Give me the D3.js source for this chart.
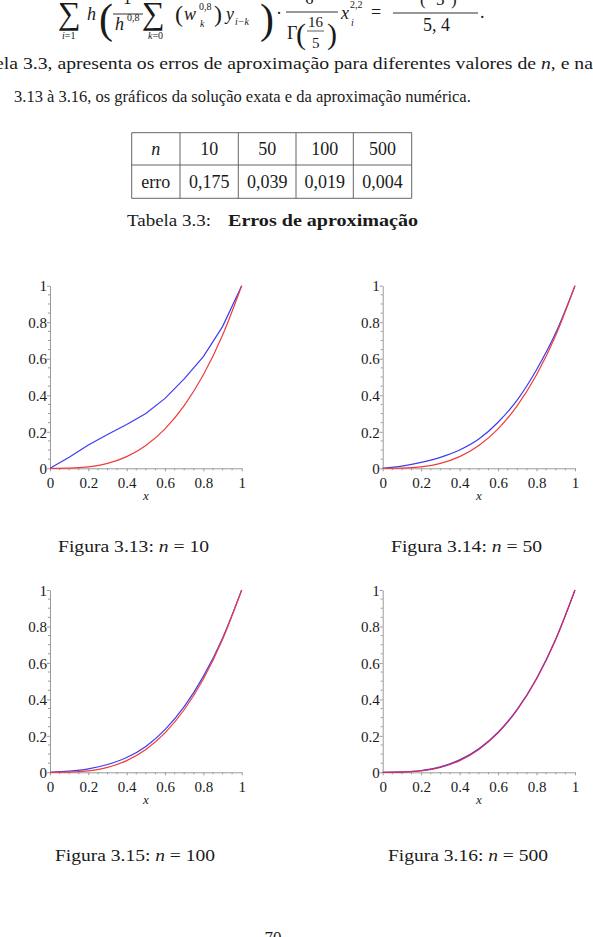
<!DOCTYPE html>
<html>
<head>
<meta charset="utf-8">
<script src="https://cdn.jsdelivr.net/npm/d3@7/dist/d3.min.js"></script>
<style>
  html, body { margin: 0; padding: 0; background: #fff; }
  svg { display: block; }
</style>
</head>
<body>
<svg id="page" width="593" height="937"></svg>
<script>
// ---------------- data ----------------
const xValues = [0, 0.1, 0.2, 0.3, 0.4, 0.5, 0.6, 0.7, 0.8, 0.9, 1];
const exactValues = [0, 0.001, 0.008, 0.027, 0.064, 0.125, 0.216, 0.343, 0.512, 0.729, 1];
const approxN10  = [0, 0.060, 0.128, 0.185, 0.240, 0.300, 0.383, 0.490, 0.612, 0.776, 1];
const approxN50  = [0, 0.012, 0.032, 0.060, 0.100, 0.160, 0.252, 0.375, 0.540, 0.742, 1];
const approxN100 = [0, 0.006, 0.019, 0.043, 0.081, 0.142, 0.234, 0.360, 0.526, 0.736, 1];
const approxN500 = [0, 0.002, 0.010, 0.030, 0.068, 0.129, 0.220, 0.347, 0.515, 0.731, 1];
const nValues = [10, 50, 100, 500];
const errorValues = ["0,175", "0,039", "0,019", "0,004"];
const tickValues = [0, 0.2, 0.4, 0.6, 0.8, 1];
const tickLabels = ["0", "0.2", "0.4", "0.6", "0.8", "1"];
const figureLabels = ["Figura 3.13:", "Figura 3.14:", "Figura 3.15:", "Figura 3.16:"];

const approxSeries = [approxN10, approxN50, approxN100, approxN500];

// ---------------- page ----------------
const svg = d3.select("#page");
svg.append("rect").attr("width", 593).attr("height", 937).attr("fill", "#fff");

const SERIF = "'Liberation Serif', 'DejaVu Serif', serif";
const txtColor = "#1a1a1a";

function t(str, x, y, size, opts = {}) {
  const el = svg.append("text")
    .attr("x", x).attr("y", y)
    .attr("font-family", SERIF)
    .attr("font-size", size)
    .attr("fill", txtColor)
    .attr("font-style", opts.italic ? "italic" : "normal")
    .attr("font-weight", opts.bold ? "bold" : "normal")
    .attr("text-anchor", opts.anchor || "start")
    .text(str);
  if (opts.len) el.attr("textLength", opts.len).attr("lengthAdjust", opts.adjust || "spacingAndGlyphs");
  return el;
}
function runs(parts, x, y, size, opts = {}) {
  const el = svg.append("text")
    .attr("x", x).attr("y", y)
    .attr("font-family", SERIF)
    .attr("font-size", size)
    .attr("fill", txtColor)
    .attr("text-anchor", opts.anchor || "start");
  parts.forEach(([s, it, bold]) => el.append("tspan")
    .attr("font-style", it ? "italic" : "normal")
    .attr("font-weight", bold ? "bold" : "normal")
    .text(s));
  if (opts.len) el.attr("textLength", opts.len).attr("lengthAdjust", opts.adjust || "spacingAndGlyphs");
  return el;
}
function hline(x1, x2, y, w = 0.9, col = txtColor) {
  svg.append("line").attr("x1", x1).attr("x2", x2).attr("y1", y).attr("y2", y)
    .attr("stroke", col).attr("stroke-width", w);
}

// ---------------- formula (top, cut off) ----------------
t("\u2211", 58, 24, 32);
runs([["i", true], ["=1", false]], 62, 39, 10);
t("h", 87, 20, 18, {italic: true});
t("(", 99, 33, 42);
t("1", 123, 4, 17);
hline(113, 143, 14);
t("h", 115, 30, 18, {italic: true});
t("0,8", 127, 21, 10);
t("\u2211", 142, 24, 32);
runs([["k", true], ["=0", false]], 148, 39, 10);
t("(", 175, 22, 24);
t("w", 184, 20, 18, {italic: true});
t("0,8", 199, 10, 10);
t("k", 200, 27, 10, {italic: true});
t(")", 214, 22, 24);
t("y", 226, 20, 18, {italic: true});
t("i\u2212k", 235, 25, 10, {italic: true});
t(")", 260, 33, 42);
t("\u00b7", 276, 19, 18);
hline(286, 338, 12);
t("6", 305, 4, 17);
t("\u0393", 287, 39, 18);
t("(", 296, 44, 30);
t("16", 308, 27, 15);
hline(307, 324, 31, 0.7);
t("5", 312, 48, 15);
t(")", 327, 44, 30);
t("x", 341, 19, 18, {italic: true});
t("2,2", 350, 8, 10);
t("i", 351, 26, 10, {italic: true});
t("=", 371, 18, 18);
hline(393, 478, 13);
t("(", 420, 5, 17);
t("5", 436, 5, 17);
t(")", 451, 5, 17);
t("5, 4", 423, 31, 18);
t(".", 480, 18, 18);

// ---------------- paragraph ----------------
runs([["ela 3.3, apresenta os erros de aproxima\u00e7\u00e3o para diferentes valores de ", false],
      ["n", true], [", e na", false]], -5, 69, 17, {len: 598});
t("3.13 \u00e0 3.16, os gr\u00e1ficos da solu\u00e7\u00e3o exata e da aproxima\u00e7\u00e3o num\u00e9rica.", 14, 102, 16.5);

// ---------------- table ----------------
const colEdges = [131.7, 180, 238.3, 296, 353.3, 411.7];
const rowEdges = [132.7, 165, 198.3];
colEdges.forEach(x => svg.append("line").attr("x1", x).attr("x2", x)
  .attr("y1", rowEdges[0]).attr("y2", rowEdges[2]).attr("stroke", "#555").attr("stroke-width", 0.9));
rowEdges.forEach(y => hline(colEdges[0], colEdges[5], y, 0.9, "#555"));
const colMid = i => (colEdges[i] + colEdges[i + 1]) / 2;
t("n", colMid(0), 155, 18, {italic: true, anchor: "middle"});
t("erro", colMid(0), 188, 18, {anchor: "middle"});
nValues.forEach((n, i) => t(String(n), colMid(i + 1), 155, 18, {anchor: "middle"}));
errorValues.forEach((e, i) => t(e, colMid(i + 1), 188, 18, {anchor: "middle"}));

t("Tabela 3.3:", 127, 226, 17, {len: 84});
t("Erros de aproxima\u00e7\u00e3o", 228, 226, 17, {bold: true, len: 190});

// ---------------- charts ----------------
const panels = [
  {left: 50,    right: 241.7, top: 285.7, bottom: 468.3},
  {left: 382.7, right: 575,   top: 285.7, bottom: 468.3},
  {left: 50,    right: 241.7, top: 590,   bottom: 772.3},
  {left: 382.7, right: 575,   top: 590,   bottom: 772.3}
];
const captionPos = [
  {x: 58, y: 552}, {x: 391, y: 552}, {x: 55, y: 861}, {x: 388, y: 861}
];
const AXIS = "#9a9a9a";
const minorTicks = d3.range(0, 1.0001, 0.05).filter(v => Math.abs(v * 5 - Math.round(v * 5)) > 1e-6);

panels.forEach((p, i) => {
  const x = d3.scaleLinear().domain([0, 1]).range([p.left, p.right]);
  const y = d3.scaleLinear().domain([0, 1]).range([p.bottom, p.top]);
  const g = svg.append("g");

  const xa = g.append("g").attr("transform", `translate(0,${p.bottom})`)
    .call(d3.axisBottom(x).tickValues(tickValues).tickSize(3).tickSizeOuter(0)
      .tickFormat((d, k) => tickLabels[k]));
  const ya = g.append("g").attr("transform", `translate(${p.left},0)`)
    .call(d3.axisLeft(y).tickValues(tickValues).tickSize(3).tickSizeOuter(0)
      .tickFormat((d, k) => tickLabels[k]));
  [xa, ya].forEach(a => {
    a.select(".domain").attr("stroke", AXIS).attr("stroke-width", 1);
    a.selectAll(".tick line").attr("stroke", AXIS);
    a.selectAll(".tick text").attr("font-family", SERIF).attr("font-size", 15).attr("fill", txtColor);
  });
  xa.selectAll(".tick text").attr("dy", "0.35em").attr("y", 14);
  ya.selectAll(".tick text").attr("x", -3).attr("dy", "0.35em");

  g.selectAll(".mx").data(minorTicks).join("line")
    .attr("x1", d => x(d)).attr("x2", d => x(d))
    .attr("y1", p.bottom).attr("y2", p.bottom + 2).attr("stroke", AXIS);
  g.selectAll(".my").data(minorTicks).join("line")
    .attr("x1", p.left - 2).attr("x2", p.left)
    .attr("y1", d => y(d)).attr("y2", d => y(d)).attr("stroke", AXIS);

  t("x", (p.left + p.right) / 2, p.bottom + 32, 13, {italic: true, anchor: "middle"});

  const approx = approxSeries[i];
  const lineApprox = d3.line()
    .x((d, k) => x(xValues[k])).y(d => y(d))
    .curve(i === 0 ? d3.curveLinear : d3.curveMonotoneX);
  const lineExact = d3.line()
    .x((d, k) => x(xValues[k])).y(d => y(d))
    .curve(d3.curveMonotoneX);
  g.append("path").datum(approx).attr("d", lineApprox)
    .attr("fill", "none").attr("stroke", "#3c3cf0").attr("stroke-width", 1.2);
  g.append("path").datum(exactValues).attr("d", lineExact)
    .attr("fill", "none").attr("stroke", i === 3 ? "#d62a5c" : "#f03c3c").attr("stroke-width", 1.2);

  const c = captionPos[i];
  runs([[figureLabels[i] + " ", false], ["n", true], [" = " + nValues[i], false]],
    c.x, c.y, 17, {len: nValues[i] >= 100 ? 160 : 151});
});

// page number (cut off)
t("70", 273, 943, 17, {anchor: "middle"});
</script>
</body>
</html>
